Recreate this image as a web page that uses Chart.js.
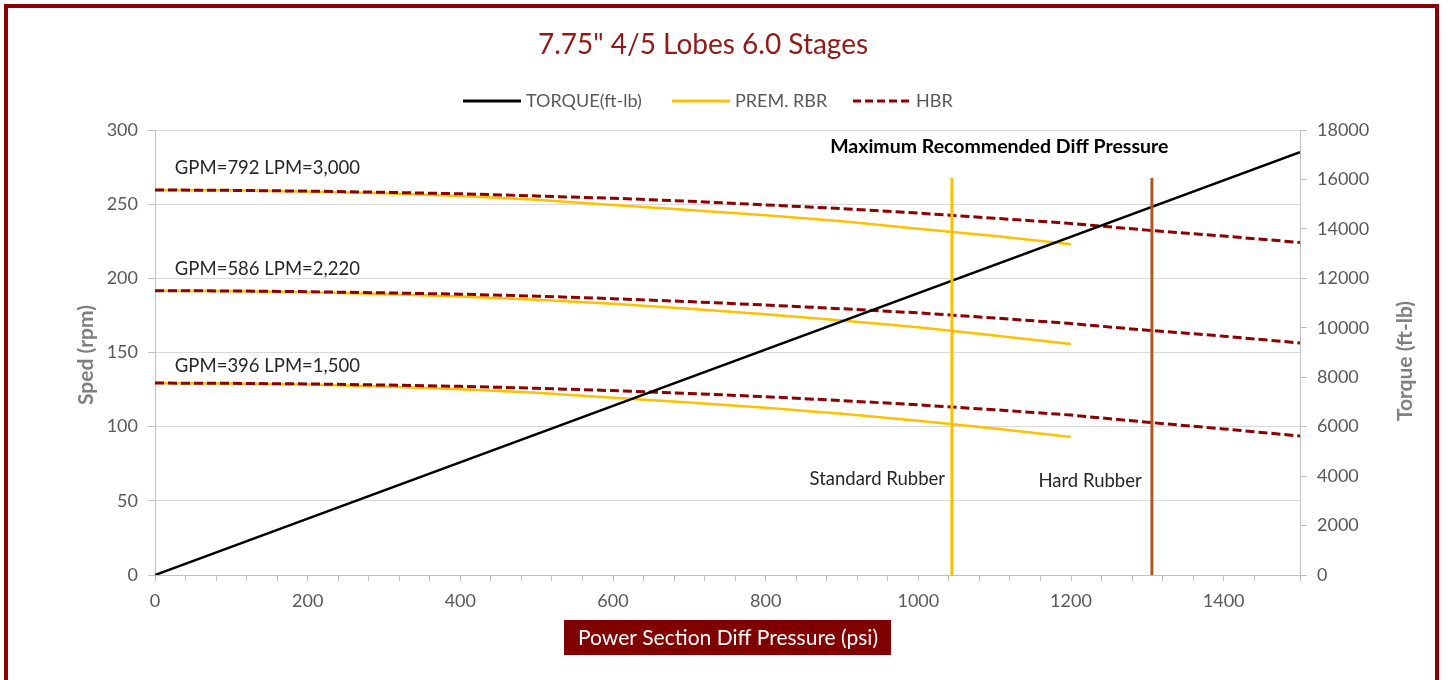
<!DOCTYPE html>
<html>
<head>
<meta charset="utf-8">
<script src="https://cdn.jsdelivr.net/npm/chart.js@4.4.1/dist/chart.umd.min.js"></script>
<style>
  html, body { margin: 0; padding: 0; background: #fff; }
  #wrap { width: 1450px; height: 680px; }
</style>
</head>
<body>
<div id="wrap"><canvas id="graficoMotor" width="1450" height="680"></canvas></div>
<script>
// datos
const presionPsi = [0, 100, 200, 300, 400, 500, 600, 700, 800, 900, 1000, 1100, 1200, 1300, 1400, 1500];
const presionPremPsi = [0, 100, 200, 300, 400, 500, 600, 700, 800, 900, 1000, 1100, 1200];

const hbr792 = [259.6, 259.3, 258.8, 258.0, 257.0, 255.5, 254.0, 252.0, 249.5, 247.0, 244.0, 240.5, 237.0, 232.5, 228.5, 224.2];
const hbr586 = [191.7, 191.5, 191.0, 190.2, 189.3, 188.0, 186.3, 184.3, 182.0, 179.5, 176.7, 173.3, 169.5, 165.0, 161.0, 156.4];
const hbr396 = [129.4, 129.2, 128.8, 128.1, 127.2, 125.9, 124.3, 122.4, 120.2, 117.6, 114.7, 111.4, 107.8, 103.0, 98.5, 93.7];

const prem792 = [259.6, 259.3, 258.5, 257.3, 255.5, 253.0, 249.5, 246.0, 242.5, 238.5, 233.5, 228.5, 223.0];
const prem586 = [191.7, 191.4, 190.7, 189.5, 187.8, 185.6, 182.8, 179.5, 175.8, 171.6, 167.0, 161.5, 155.7];
const prem396 = [129.4, 129.1, 128.4, 127.1, 125.3, 122.9, 119.5, 116.3, 112.8, 108.7, 104.0, 98.8, 93.0];

const torquePsi = [0, 1500];
const torqueFtLb = [0, 17100];

const limiteEstandarPsi = 1044;
const limiteDuroPsi = 1306;
const limiteRpm = [0, 267.6];

const etiquetasCaudal = [
    { texto: 'GPM=792 LPM=3,000', psi: 26, rpm: 274.4 },
    { texto: 'GPM=586 LPM=2,220', psi: 26, rpm: 206.3 },
    { texto: 'GPM=396 LPM=1,500', psi: 26, rpm: 140.9 }
];

const rojoOscuro = '#8B0000';
const amarillo = '#FFC000';
const marron = '#B4561B';
const gris = '#595959';
const fuente = 'Lato, "Open Sans", sans-serif';

function puntos(xs, ys) {
    return xs.map((x, i) => ({ x: x, y: ys[i] }));
}

function serieHbr(valores) {
    return {
        label: 'HBR',
        data: puntos(presionPsi, valores),
        borderColor: rojoOscuro,
        borderWidth: 3,
        borderDash: [9, 4],
        pointRadius: 0,
        yAxisID: 'y',
        order: 3
    };
}

function seriePrem(valores) {
    return {
        label: 'PREM. RBR',
        data: puntos(presionPremPsi, valores),
        borderColor: amarillo,
        borderWidth: 2.5,
        pointRadius: 0,
        yAxisID: 'y',
        order: 4
    };
}

function lineaVertical(psi, color) {
    return {
        label: 'limite',
        data: puntos([psi, psi], limiteRpm),
        borderColor: color,
        borderWidth: 3,
        pointRadius: 0,
        yAxisID: 'y',
        order: 1
    };
}

// titulo, leyenda, textos y marco dibujados a mano
const decorado = {
    id: 'decorado',
    afterDraw(chart) {
        const ctx = chart.ctx;
        const area = chart.chartArea;
        const x = chart.scales.x;
        const y = chart.scales.y;
        ctx.save();

        // titulo
        ctx.fillStyle = '#8E1A1A';
        ctx.font = '28px ' + fuente;
        ctx.textAlign = 'center';
        ctx.textBaseline = 'middle';
        ctx.fillText('7.75" 4/5 Lobes 6.0 Stages', 703, 45);

        // leyenda
        const leyenda = [
            { texto: 'TORQUE(ft-lb)', color: '#000', dash: [], x0: 463 },
            { texto: 'PREM. RBR', color: amarillo, dash: [], x0: 672 },
            { texto: 'HBR', color: rojoOscuro, dash: [8, 4], x0: 853 }
        ];
        ctx.font = '18px ' + fuente;
        ctx.textAlign = 'left';
        leyenda.forEach(item => {
            ctx.beginPath();
            ctx.setLineDash(item.dash);
            ctx.strokeStyle = item.color;
            ctx.lineWidth = 3;
            ctx.moveTo(item.x0, 101);
            ctx.lineTo(item.x0 + 58, 101);
            ctx.stroke();
            ctx.fillStyle = gris;
            ctx.fillText(item.texto, item.x0 + 63, 101);
        });
        ctx.setLineDash([]);

        // titulos de ejes
        ctx.fillStyle = '#7F7F7F';
        ctx.font = 'bold 21px ' + fuente;
        ctx.textAlign = 'center';
        const centroY = (area.top + area.bottom) / 2;
        [['Sped (rpm)', 86, 355], ['Torque (ft-lb)', 1405, 361]].forEach(t => {
            ctx.save();
            ctx.translate(t[1], t[2]);
            ctx.rotate(-Math.PI / 2);
            ctx.fillText(t[0], 0, 0);
            ctx.restore();
        });

        // textos dentro del grafico
        ctx.fillStyle = '#262626';
        ctx.font = '18.5px ' + fuente;
        ctx.textAlign = 'left';
        etiquetasCaudal.forEach(e => {
            ctx.fillText(e.texto, x.getPixelForValue(e.psi), y.getPixelForValue(e.rpm));
        });
        ctx.textAlign = 'right';
        ctx.fillText('Standard Rubber', x.getPixelForValue(1035), y.getPixelForValue(64.7));
        ctx.textAlign = 'center';
        ctx.fillText('Hard Rubber', x.getPixelForValue(1225), y.getPixelForValue(63.4));
        ctx.fillStyle = '#000';
        ctx.font = 'bold 19.5px ' + fuente;
        ctx.fillText('Maximum Recommended Diff Pressure', x.getPixelForValue(1106), y.getPixelForValue(288.5));

        // titulo eje x en caja
        ctx.fillStyle = '#800000';
        ctx.fillRect(564, 620, 327, 35);
        ctx.fillStyle = '#fff';
        ctx.font = '21px ' + fuente;
        ctx.textAlign = 'center';
        ctx.fillText('Power Section Diff Pressure (psi)', 728, 638);

        // marco
        ctx.strokeStyle = rojoOscuro;
        ctx.lineWidth = 4;
        ctx.strokeRect(6, 6, 1431, 700);
        ctx.restore();
    }
};

const ctx = document.getElementById('graficoMotor').getContext('2d');
new Chart(ctx, {
    type: 'line',
    data: {
        datasets: [
            {
                label: 'TORQUE(ft-lb)',
                data: puntos(torquePsi, torqueFtLb),
                borderColor: '#000',
                borderWidth: 2.5,
                pointRadius: 0,
                yAxisID: 'y2',
                order: 2
            },
            seriePrem(prem792),
            seriePrem(prem586),
            seriePrem(prem396),
            serieHbr(hbr792),
            serieHbr(hbr586),
            serieHbr(hbr396),
            lineaVertical(limiteEstandarPsi, amarillo),
            lineaVertical(limiteDuroPsi, marron)
        ]
    },
    options: {
        responsive: false,
        animation: false,
        layout: { padding: { top: 130, left: 0, right: 0, bottom: 0 } },
        plugins: {
            legend: { display: false },
            title: { display: false },
            tooltip: { enabled: false }
        },
        scales: {
            x: {
                type: 'linear',
                min: 0,
                max: 1500,
                afterFit: s => { s.height = 105; },
                ticks: {
                    stepSize: 40,
                    autoSkip: false,
                    maxRotation: 0,
                    padding: 9,
                    color: gris,
                    font: { family: fuente, size: 18 },
                    callback: v => (v % 200 === 0 ? String(v) : '')
                },
                grid: { drawOnChartArea: false, tickLength: 6, color: '#BFBFBF' },
                border: { color: '#BFBFBF' }
            },
            y: {
                position: 'left',
                min: 0,
                max: 300,
                afterFit: s => { s.width = 155; },
                ticks: {
                    stepSize: 50,
                    padding: 10,
                    color: gris,
                    font: { family: fuente, size: 18 }
                },
                grid: { color: '#D9D9D9', tickColor: '#BFBFBF', tickLength: 7 },
                border: { color: '#BFBFBF' }
            },
            y2: {
                position: 'right',
                min: 0,
                max: 18000,
                afterFit: s => { s.width = 150; },
                ticks: {
                    stepSize: 2000,
                    padding: 10,
                    color: gris,
                    font: { family: fuente, size: 18 },
                    callback: v => String(v)
                },
                grid: { drawOnChartArea: false, color: '#BFBFBF', tickLength: 7 },
                border: { color: '#BFBFBF' }
            }
        }
    },
    plugins: [decorado]
});
</script>
</body>
</html>
